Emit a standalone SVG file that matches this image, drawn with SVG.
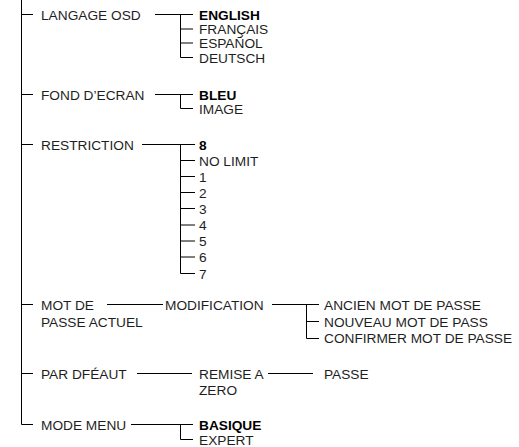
<svg xmlns="http://www.w3.org/2000/svg" width="519" height="447" viewBox="0 0 519 447">
<style>
text{font-family:"Liberation Sans",Arial,sans-serif;font-size:13.7px;fill:#1e1e1e}
.b{font-weight:bold;fill:#000}
.c line,.c path{stroke:#000;stroke-width:1;fill:none}
</style>
<rect width="519" height="447" fill="#fff"/>
<g class="c" id="connectors">
<path d="M21.5 0V424.5H33"/>
<line x1="21" y1="14.5" x2="33" y2="14.5"/>
<line x1="21" y1="94.5" x2="33" y2="94.5"/>
<line x1="21" y1="144.5" x2="33" y2="144.5"/>
<line x1="21" y1="304.5" x2="33" y2="304.5"/>
<line x1="21" y1="373.5" x2="33" y2="373.5"/>
<!-- langage -->
<line x1="155" y1="14.5" x2="193" y2="14.5"/>
<path d="M180.5 14.5V57.5H193"/>
<line x1="180" y1="29" x2="193" y2="29"/>
<line x1="180" y1="43" x2="193" y2="43"/>
<!-- fond -->
<line x1="155" y1="94.5" x2="193" y2="94.5"/>
<path d="M180.5 94.5V108.5H193"/>
<!-- restriction -->
<line x1="142" y1="144.5" x2="195" y2="144.5"/>
<path d="M180.5 144.5V273.5H195"/>
<line x1="180" y1="160.5" x2="195" y2="160.5"/>
<line x1="180" y1="176.5" x2="195" y2="176.5"/>
<line x1="180" y1="192.5" x2="195" y2="192.5"/>
<line x1="180" y1="208.5" x2="195" y2="208.5"/>
<line x1="180" y1="225" x2="195" y2="225"/>
<line x1="180" y1="241" x2="195" y2="241"/>
<line x1="180" y1="257" x2="195" y2="257"/>
<!-- mot de passe -->
<line x1="107" y1="304.5" x2="163" y2="304.5"/>
<line x1="272" y1="304.5" x2="319" y2="304.5"/>
<path d="M306.5 304.5V338.5H319"/>
<line x1="306" y1="321.5" x2="319" y2="321.5"/>
<!-- par defaut -->
<line x1="137" y1="373.5" x2="192" y2="373.5"/>
<line x1="268" y1="373.5" x2="313" y2="373.5"/>
<!-- mode menu -->
<line x1="131" y1="424.5" x2="193" y2="424.5"/>
<path d="M180.5 424.5V439.5H193"/>
</g>
<g id="langage"><text x="41" y="19.5">LANGAGE OSD</text></g>
<g id="langage-options">
<text x="199" y="19.5" class="b">ENGLISH</text>
<text x="199" y="34">FRANÇAIS</text>
<text x="199" y="48">ESPAÑOL</text>
<text x="199" y="62.5">DEUTSCH</text>
</g>
<g id="fond"><text x="41" y="99.5">FOND D’ECRAN</text></g>
<g id="fond-options">
<text x="199" y="99.5" class="b">BLEU</text>
<text x="199" y="113.5">IMAGE</text>
</g>
<g id="restriction"><text x="41" y="149.5">RESTRICTION</text></g>
<g id="restriction-options">
<text x="199" y="149.5" class="b">8</text>
<text x="199" y="165.5">NO LIMIT</text>
<text x="199" y="181.5">1</text>
<text x="199" y="197.5">2</text>
<text x="199" y="213.5">3</text>
<text x="199" y="230">4</text>
<text x="199" y="246">5</text>
<text x="199" y="262">6</text>
<text x="199" y="278.5">7</text>
</g>
<g id="mot-de-passe"><text x="41" y="309.5">MOT DE</text><text x="41" y="327">PASSE ACTUEL</text></g>
<g id="modification"><text x="165" y="309.5">MODIFICATION</text></g>
<g id="modification-options">
<text x="324" y="310">ANCIEN MOT DE PASSE</text>
<text x="324" y="326.5">NOUVEAU MOT DE PASS</text>
<text x="324" y="343">CONFIRMER MOT DE PASSE</text>
</g>
<g id="par-defaut"><text x="41" y="378.5">PAR DFÉAUT</text></g>
<g id="remise"><text x="199" y="378.5">REMISE A</text><text x="199" y="394.5">ZERO</text></g>
<g id="passe"><text x="324" y="378.5">PASSE</text></g>
<g id="mode-menu"><text x="41" y="429.5">MODE MENU</text></g>
<g id="mode-menu-options">
<text x="199" y="429.5" class="b">BASIQUE</text>
<text x="199" y="444.5">EXPERT</text>
</g>
</svg>
